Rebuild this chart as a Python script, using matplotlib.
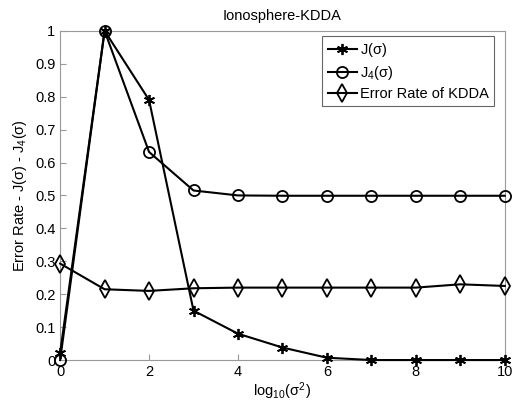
import matplotlib
matplotlib.use('Agg')
import matplotlib.pyplot as plt

plt.rcParams['font.family'] = ['Liberation Sans', 'DejaVu Sans']
plt.rcParams['mathtext.fontset'] = 'custom'
plt.rcParams['mathtext.rm'] = 'Liberation Sans'
plt.rcParams['mathtext.it'] = 'Liberation Sans'

log_sigma = [0, 1, 2, 3, 4, 5, 6, 7, 8, 9, 10]
j_sigma = [0.022, 1.0, 0.79, 0.15, 0.08, 0.038, 0.007, 0.0, 0.0, 0.0, 0.0]
j4_sigma = [0.0, 1.0, 0.632, 0.515, 0.5, 0.499, 0.499, 0.499, 0.499, 0.499, 0.499]
err_kdda = [0.293, 0.215, 0.21, 0.218, 0.22, 0.22, 0.22, 0.22, 0.22, 0.23, 0.225]

fig = plt.figure(figsize=(5.14, 4.11), dpi=100)
ax = fig.add_axes([0.117, 0.124, 0.865, 0.801])

ax.plot(log_sigma, j_sigma, color='black', lw=1.5, marker=(6, 2, 0), ms=8,
        mew=1.3, label=r'J($\sigma$)', clip_on=False, zorder=3)
ax.plot(log_sigma, j4_sigma, color='black', lw=1.5, marker='o', ms=8,
        mfc='none', mew=1.3, label=r'J$_4$($\sigma$)', clip_on=False, zorder=3)
ax.plot(log_sigma, err_kdda, color='black', lw=1.5, marker='d', ms=9,
        mfc='none', mew=1.3, label='Error Rate of KDDA', clip_on=False, zorder=3)

ax.set_xlim(0, 10)
ax.set_ylim(0, 1)
ax.set_xticks([0, 2, 4, 6, 8, 10])
ax.set_yticks([0, 0.1, 0.2, 0.3, 0.4, 0.5, 0.6, 0.7, 0.8, 0.9, 1])
ax.set_yticklabels(['0', '0.1', '0.2', '0.3', '0.4', '0.5', '0.6', '0.7', '0.8', '0.9', '1'])
ax.tick_params(direction='in', length=4, labelsize=10.5, colors='black')
ax.tick_params(axis='both', color='#999999')
for s in ax.spines.values():
    s.set_color('#999999')
    s.set_linewidth(0.8)

ax.set_title('Ionosphere-KDDA', fontsize=10.5, pad=8)
ax.set_xlabel(r'log$_{10}$($\sigma^2$)', fontsize=10.5, labelpad=1)
ax.set_ylabel(r'Error Rate - J($\sigma$) - J$_4$($\sigma$)', fontsize=10.5)

leg = ax.legend(loc='upper right', fontsize=10.5, fancybox=False, framealpha=1,
                edgecolor='#666666', bbox_to_anchor=(0.975, 0.985),
                borderaxespad=0, handlelength=2.0,
                handletextpad=0.2, borderpad=0.35, labelspacing=0.35)
leg.get_frame().set_linewidth(0.8)

fig.savefig('out.png', dpi=100)
